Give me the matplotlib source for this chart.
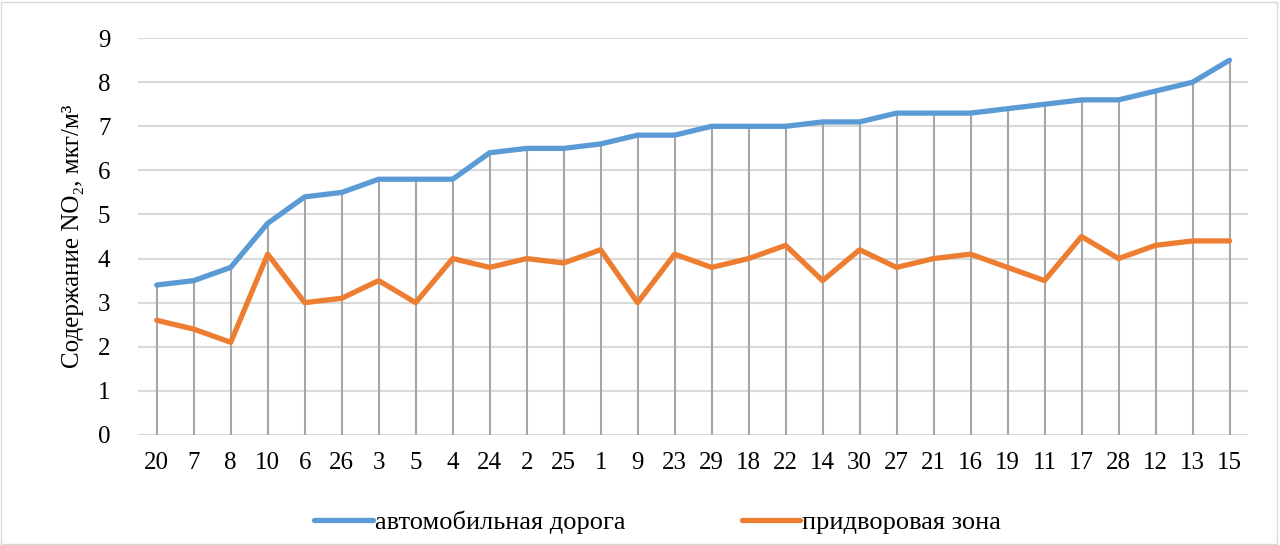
import matplotlib.pyplot as plt
import matplotlib.patches as patches

plt.rcParams['font.family'] = ['Liberation Serif', 'DejaVu Serif']

# номера точек
points = ['20', '7', '8', '10', '6', '26', '3', '5', '4', '24', '2', '25', '1', '9', '23',
          '29', '18', '22', '14', '30', '27', '21', '16', '19', '11', '17', '28', '12', '13', '15']

# автомобильная дорога
road = [3.4, 3.5, 3.8, 4.8, 5.4, 5.5, 5.8, 5.8, 5.8, 6.4, 6.5, 6.5, 6.6, 6.8, 6.8,
        7.0, 7.0, 7.0, 7.1, 7.1, 7.3, 7.3, 7.3, 7.4, 7.5, 7.6, 7.6, 7.8, 8.0, 8.5]

# придворовая зона
yard = [2.6, 2.4, 2.1, 4.1, 3.0, 3.1, 3.5, 3.0, 4.0, 3.8, 4.0, 3.9, 4.2, 3.0, 4.1,
        3.8, 4.0, 4.3, 3.5, 4.2, 3.8, 4.0, 4.1, 3.8, 3.5, 4.5, 4.0, 4.3, 4.4, 4.4]

x = list(range(len(points)))

fig = plt.figure(figsize=(12.8, 5.45), dpi=100)
ax = fig.add_axes([0.108, 0.202, 0.867, 0.728])

# рамка вокруг диаграммы
fig.patches.append(patches.Rectangle((0.001, 0.002), 0.997, 0.995, transform=fig.transFigure,
                                     fill=False, edgecolor='#d9d9d9', linewidth=1))

ax.vlines(x, 0, road, color='#a6a6a6', linewidth=1.5, zorder=1)
ax.plot(x, road, color='#5b9bd5', linewidth=3.8, solid_capstyle='round',
        solid_joinstyle='round', label='автомобильная дорога', zorder=3)
ax.plot(x, yard, color='#ed7d31', linewidth=3.8, solid_capstyle='round',
        solid_joinstyle='round', label='придворовая зона', zorder=3)

ax.set_xlim(-0.5, len(points) - 0.5)
ax.set_ylim(0, 9)
ax.set_yticks(range(0, 10))
ax.set_xticks(x)
ax.set_xticklabels(points)
ax.grid(axis='y', color='#d9d9d9', linewidth=1.5, zorder=0)
ax.set_axisbelow(True)
for s in ax.spines.values():
    s.set_visible(False)
ax.tick_params(length=0, labelsize=18, colors='black')
ax.tick_params(axis='x', pad=12)
ax.tick_params(axis='y', pad=20)

ax.set_ylabel('Содержание NO₂, мкг/м³', fontsize=18, labelpad=10)

fig.legend(loc='center', bbox_to_anchor=(0.514, 0.042), ncol=2, frameon=False,
           fontsize=19, handlelength=2.2, handletextpad=0.1, columnspacing=4.4)

fig.savefig('out.png', dpi=100)
